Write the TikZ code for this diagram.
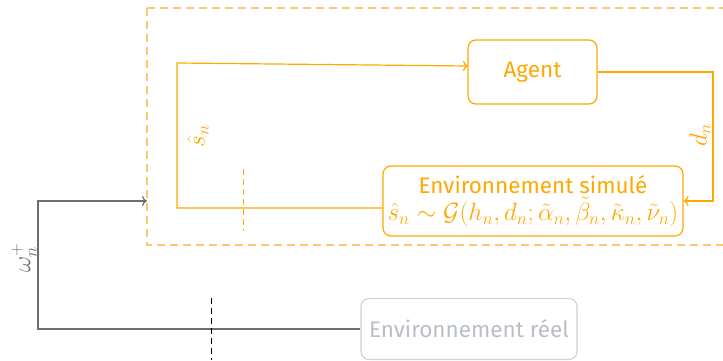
\RequirePackage{fix-cm}
\documentclass[tikz,border=0pt]{standalone}
\usepackage{fontspec}
\setmainfont{Fira Sans}
\usetikzlibrary{arrows.meta}
\definecolor{orng}{RGB}{255,168,0}
\definecolor{orngl}{RGB}{255,200,110}
\definecolor{grayline}{RGB}{110,110,110}
\definecolor{grayboxd}{RGB}{205,210,215}
\definecolor{grayboxt}{RGB}{185,190,196}
\newcommand{\mthsz}{\fontsize{25}{30}\selectfont}
\begin{document}
\begin{tikzpicture}[x=1pt,y=-1pt,
  font=\fontsize{22.5}{27}\selectfont,
  box/.style={draw=orng, rounded corners=8pt, line width=1.2pt, text=orng, align=center, inner sep=0pt},
  oline/.style={draw=orng, line width=1.2pt},
  gline/.style={draw=grayline, line width=1.2pt},
  lbl/.style={rotate=90, inner sep=1pt, font=\mthsz}
]
\useasboundingbox (0,0) rectangle (723,361);
% dashed outer frame
\draw[orngl, line width=1.4pt, dash pattern=on 8pt off 5pt] (147,8) -- (740,8);
\draw[orngl, line width=1.4pt, dash pattern=on 8pt off 5pt] (147,8) -- (147,245) -- (740,245);
% nodes
\node[box, minimum width=129pt, minimum height=64pt] (agent) at (532.5,72) {Agent};
\node[box, minimum width=300pt, minimum height=70pt] (sim) at (533,201)
  {Environnement simulé\\[0pt] {\mthsz$\hat{s}_n \sim \mathcal{G}(h_n, d_n; \tilde{\alpha}_n, \tilde{\beta}_n, \tilde{\kappa}_n, \tilde{\nu}_n)$}};
\node[draw=grayboxd, rounded corners=8pt, line width=1.1pt, text=grayboxt, minimum width=216pt, minimum height=61pt, inner sep=0pt] (real) at (469,329) {Environnement réel};
% agent -> sim
\coordinate (r1) at (713,72);
\coordinate (r2) at (713,201);
\draw[oline, -{To[length=5pt,width=10pt]}] (agent.east) -- (r1) -- (r2) -- (sim.east |- r2);
\node[lbl, text=orng] (dn) at (700,135) {$d_n$};
% sim -> agent
\coordinate (l1) at (177,208);
\coordinate (l2) at (177,63);
\coordinate (l3) at (468,66);
\draw[oline, -{To[length=5pt,width=10pt]}] (sim.west |- l1) -- (l1) -- (l2) -- (l3);
\node[lbl, text=orng] (sn) at (198,136) {$\hat{s}_n$};
% real -> frame
\coordinate (g1) at (38,329);
\coordinate (g2) at (38,201);
\coordinate (g3) at (147,201);
\draw[gline, -{To[length=5pt,width=10pt]}] (real.west) -- (g1) -- (g2) -- (g3);
\node[lbl, text=grayline] (om) at (24,258) {$\omega_n^{+}$};
% dashed cut lines
\coordinate (c1) at (243,169);
\coordinate (c2) at (243,231);
\draw[orng, line width=1pt, dash pattern=on 6pt off 4pt] (c1) -- (c2);
\coordinate (c3) at (211,298);
\coordinate (c4) at (211,360);
\draw[black, line width=1pt, dash pattern=on 6pt off 4pt] (c3) -- (c4);
\end{tikzpicture}
\end{document}
